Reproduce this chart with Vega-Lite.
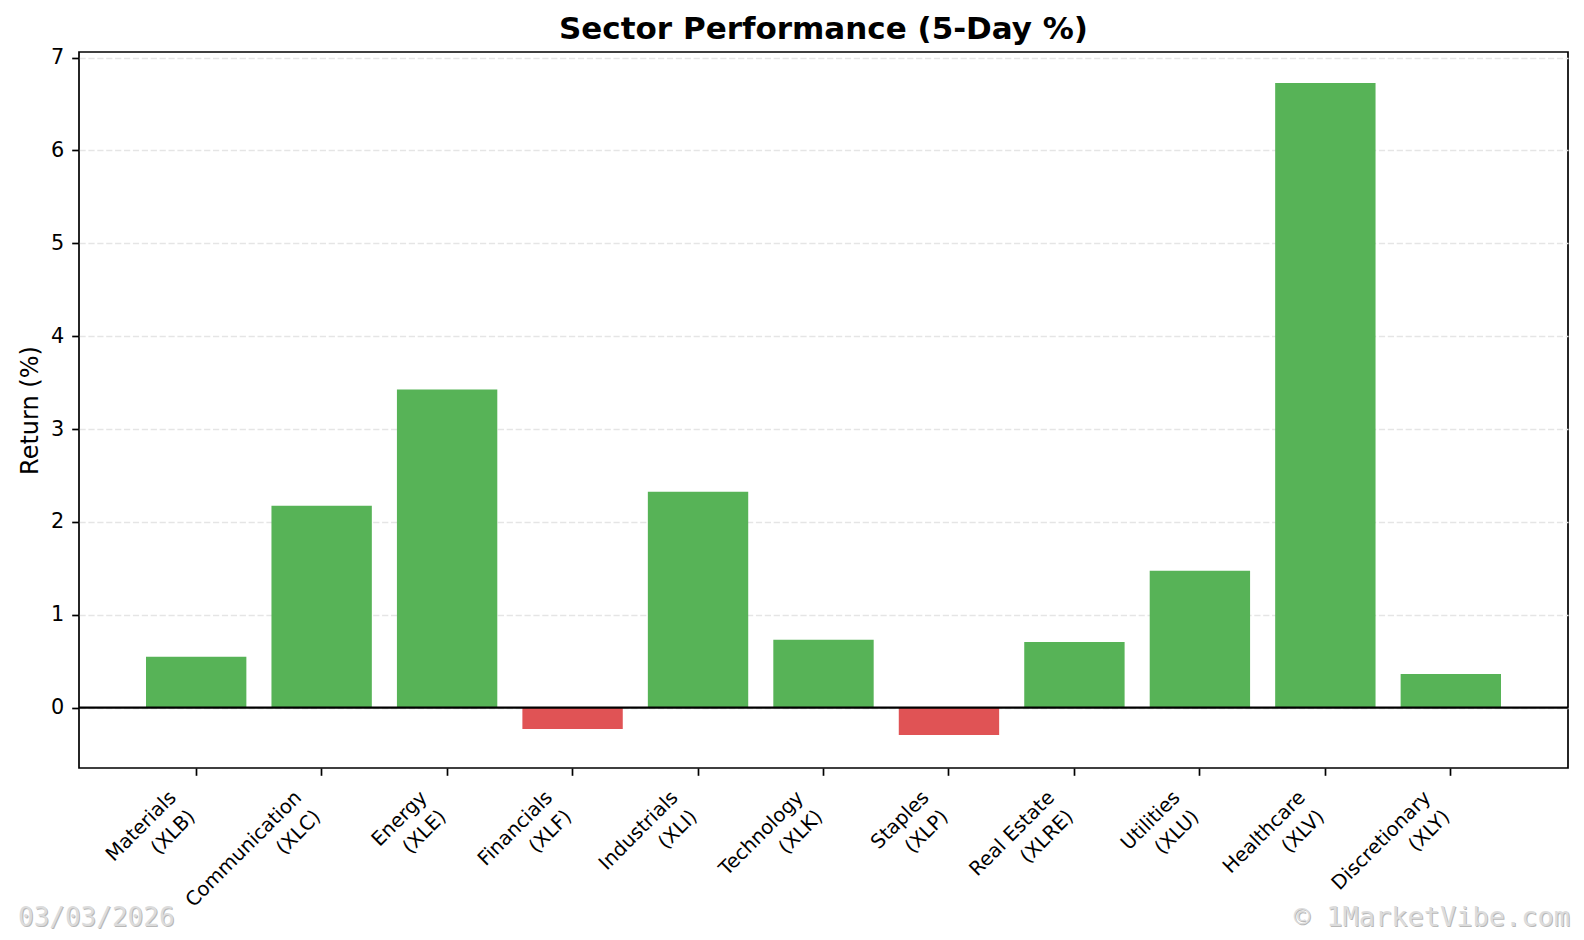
{
  "$schema": "https://vega.github.io/schema/vega-lite/v6.json",
  "width": 1489,
  "height": 716,
  "autosize": {"type": "none"},
  "padding": {"left": 79, "top": 52, "right": 16, "bottom": 172},
  "background": "white",
  "config": {
    "font": "DejaVu Sans",
    "view": {"stroke": "#000000", "strokeWidth": 1.7}
  },
  "title": {
    "text": "Sector Performance (5-Day %)",
    "font": "DejaVu Sans",
    "fontSize": 31,
    "fontWeight": "bold",
    "color": "#000000",
    "anchor": "middle",
    "baseline": "bottom",
    "offset": 5,
    "dy": 35
  },
  "data": {
    "values": [
      {"sector": "Materials (XLB)", "value": 0.547},
      {"sector": "Communication (XLC)", "value": 2.174},
      {"sector": "Energy (XLE)", "value": 3.425},
      {"sector": "Financials (XLF)", "value": -0.23},
      {"sector": "Industrials (XLI)", "value": 2.325},
      {"sector": "Technology (XLK)", "value": 0.73},
      {"sector": "Staples (XLP)", "value": -0.295},
      {"sector": "Real Estate (XLRE)", "value": 0.708},
      {"sector": "Utilities (XLU)", "value": 1.474},
      {"sector": "Healthcare (XLV)", "value": 6.727},
      {"sector": "Discretionary (XLY)", "value": 0.363}
    ]
  },
  "layer": [
    {
      "mark": {"type": "bar"},
      "encoding": {
        "x": {
          "field": "sector",
          "type": "nominal",
          "sort": null,
          "scale": {"paddingInner": 0.2, "paddingOuter": 0.534},
          "axis": {
            "title": null,
            "domain": false,
            "grid": false,
            "labelExpr": "split(replace(datum.label, ' (', '|('), '|')",
            "labelAngle": -45,
            "labelAlign": "right",
            "labelBaseline": "alphabetic",
            "labelOffset": -19,
            "labelPadding": 23,
            "labelFont": "DejaVu Sans",
            "labelFontSize": 19.6,
            "labelLineHeight": 27,
            "labelColor": "#000000",
            "labelLimit": 0,
            "labelOverlap": false,
            "labelBound": false,
            "tickSize": 7.3,
            "tickWidth": 1.7,
            "tickColor": "#000000"
          }
        },
        "y": {
          "field": "value",
          "type": "quantitative",
          "scale": {"domain": [-0.65, 7.06], "nice": false, "zero": false},
          "axis": {
            "values": [0, 1, 2, 3, 4, 5, 6, 7],
            "format": "d",
            "title": "Return (%)",
            "titleFont": "DejaVu Sans",
            "titleFontSize": 24,
            "titleFontWeight": "normal",
            "titleColor": "#000000",
            "titleAngle": 270,
            "titleAlign": "center",
            "titleBaseline": "alphabetic",
            "titleX": -42,
            "titleY": 358,
            "domain": false,
            "grid": true,
            "gridColor": "#e5e5e5",
            "gridDash": [6.2, 2.7],
            "gridWidth": 1.67,
            "labelFont": "DejaVu Sans",
            "labelFontSize": 20.8,
            "labelColor": "#000000",
            "labelPadding": 8,
            "labelFlush": false,
            "labelOverlap": false,
            "tickSize": 7.3,
            "tickWidth": 1.7,
            "tickColor": "#000000"
          }
        },
        "fill": {
          "condition": {"test": "datum.value < 0", "value": "#e05355"},
          "value": "#57b357"
        }
      }
    },
    {
      "data": {"values": [{"v": 0}]},
      "mark": {"type": "rule", "color": "#000000", "strokeWidth": 2.1},
      "encoding": {"y": {"field": "v", "type": "quantitative"}}
    },
    {
      "data": {"values": [{"note": "03/03/2026"}]},
      "mark": {"type": "text", "font": "DejaVu Sans Mono", "fontSize": 26, "align": "left", "baseline": "alphabetic", "fill": "#b8b8b8", "dx": 1, "dy": 1},
      "encoding": {"text": {"field": "note"}, "x": {"value": -61}, "y": {"value": 874}}
    },
    {
      "data": {"values": [{"note": "03/03/2026"}]},
      "mark": {"type": "text", "font": "DejaVu Sans Mono", "fontSize": 26, "align": "left", "baseline": "alphabetic", "fill": "#dcdcdc"},
      "encoding": {"text": {"field": "note"}, "x": {"value": -61}, "y": {"value": 874}}
    },
    {
      "data": {"values": [{"note": "© 1MarketVibe.com"}]},
      "mark": {"type": "text", "font": "DejaVu Sans Mono", "fontSize": 27, "align": "right", "baseline": "alphabetic", "fill": "#b8b8b8", "dx": 1, "dy": 1},
      "encoding": {"text": {"field": "note"}, "x": {"value": 1491}, "y": {"value": 874}}
    },
    {
      "data": {"values": [{"note": "© 1MarketVibe.com"}]},
      "mark": {"type": "text", "font": "DejaVu Sans Mono", "fontSize": 27, "align": "right", "baseline": "alphabetic", "fill": "#dcdcdc"},
      "encoding": {"text": {"field": "note"}, "x": {"value": 1491}, "y": {"value": 874}}
    }
  ]
}
